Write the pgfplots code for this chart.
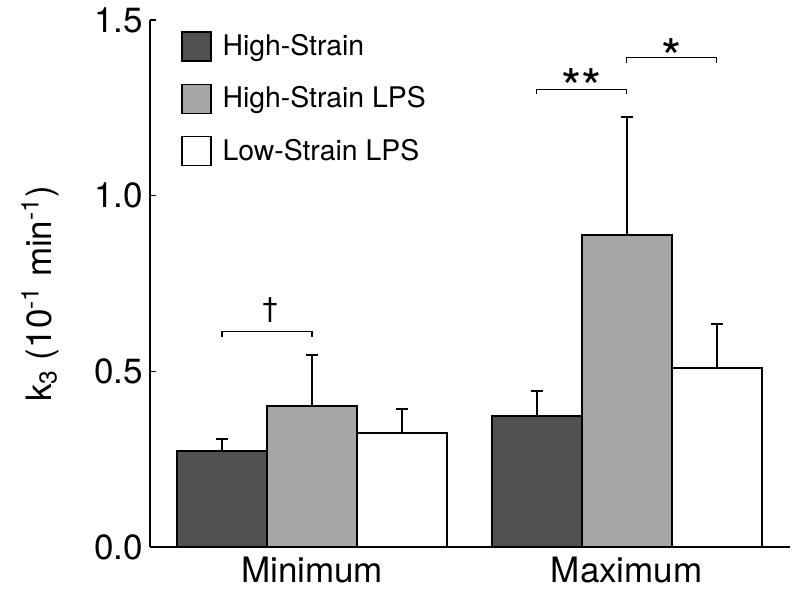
\documentclass[border=0pt]{standalone}
\usepackage{pgfplots}
\pgfplotsset{compat=1.18}
\usepackage{fontspec}
\setmainfont{TeX Gyre Heros}
\definecolor{darkbar}{HTML}{505050}
\definecolor{graybar}{HTML}{A6A6A6}
\pgfplotsset{
  mybar/.style={ybar, bar width=0.286, bar shift=0pt, draw=black, line width=1pt,
    error bars/.cd, y dir=plus, y explicit,
    error bar style={line width=1pt, black},
    error mark options={rotate=90, mark size=3pt, line width=1pt, black},
    /pgfplots/.cd,
    legend image code/.code={\draw[##1, line width=0.7pt] (0pt,-7.25pt) rectangle (14.5pt,7.25pt);}},
}
\begin{document}
\begin{tikzpicture}[font=\fontsize{17.5}{21}\selectfont]
\useasboundingbox (-75pt,-24pt) rectangle (325pt,273.5pt);
\begin{axis}[
  scale only axis, width=320pt, height=263.5pt,
  xmin=-0.515, xmax=1.519, ymin=0, ymax=1.5,
  axis x line*=bottom, axis y line*=left,
  x axis line style={-, line width=0.7pt}, y axis line style={-, line width=0.7pt},
  tick align=inside, major tick length=3pt,
  tick style={line width=0.7pt, black},
  ytick={0,0.5,1,1.5},
  yticklabel style={/pgf/number format/.cd, fixed, fixed zerofill, precision=1},
  /pgf/number format/assume math mode=true,
  xtick={0,1}, xticklabels={Minimum,Maximum},
  xticklabel style={yshift=-1.5pt},
  x tick style={draw=none},
  ylabel={k\textsubscript{3} (10\textsuperscript{-1} min\textsuperscript{-1})},
  ylabel style={at={(axis description cs:-0.172,0.48)}, anchor=center},
  legend style={at={(0.048,0.981)}, anchor=north west, draw=none, fill=none,
    inner sep=0pt, font=\fontsize{14.2}{16}\selectfont, row sep=10pt,
    /tikz/every odd column/.append style={column sep=3.5pt}},
  legend cell align=left,
]
\addplot[mybar, fill=darkbar] coordinates {(-0.286,0.274) +- (0,0.034) (0.714,0.374) +- (0,0.071)};
\addlegendentry{High-Strain}
\addplot[mybar, fill=graybar] coordinates {(0,0.401) +- (0,0.145) (1,0.888) +- (0,0.336)};
\addlegendentry{High-Strain LPS}
\addplot[mybar, fill=white] coordinates {(0.286,0.325) +- (0,0.067) (1.286,0.510) +- (0,0.125)};
\addlegendentry{Low-Strain LPS}
\draw[line width=0.6pt] (axis cs:-0.286,0.599) -- (axis cs:-0.286,0.613) -- (axis cs:0,0.613) -- (axis cs:0,0.599);
\node[anchor=north, inner sep=0pt, font=\fontsize{14}{16}\selectfont] at (axis cs:-0.133,0.712) {†};
\draw[line width=0.6pt] (axis cs:0.714,1.289) -- (axis cs:0.714,1.303) -- (axis cs:1,1.303) -- (axis cs:1,1.289);
\node[anchor=north, inner sep=0pt, font=\fontsize{26}{30}\selectfont] at (axis cs:0.857,1.362) {**};
\draw[line width=0.6pt] (axis cs:1,1.379) -- (axis cs:1,1.393) -- (axis cs:1.286,1.393) -- (axis cs:1.286,1.379);
\node[anchor=north, inner sep=0pt, font=\fontsize{26}{30}\selectfont] at (axis cs:1.143,1.449) {*};
\end{axis}
\end{tikzpicture}
\end{document}
